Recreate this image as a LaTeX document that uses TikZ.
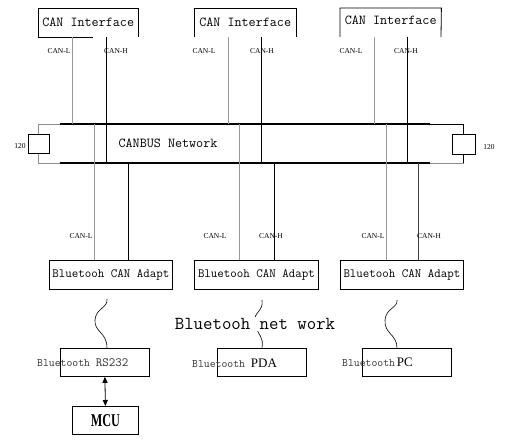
\documentclass[tikz,border=0pt]{standalone}
\usepackage{fontspec}
\usepackage{graphicx}
\setmainfont{Liberation Serif}
\newcommand\monof{\ttfamily}
\usetikzlibrary{arrows.meta}
\begin{document}
\begin{tikzpicture}[x=1pt,y=-1pt,
  thinl/.style={line width=0.8pt, black},
  gline/.style={line width=1pt, black!40},
  kline/.style={line width=0.9pt, black},
  busline/.style={line width=2.6pt, black},
  box/.style={draw, line width=0.8pt, inner sep=0pt, anchor=north west},
  ifc/.style={inner sep=0pt, anchor=north west, minimum height=29pt, font=\monof\fontsize{13.7}{13.7}\selectfont},
  lab/.style={inner sep=0pt, font=\fontsize{7.5}{8}\selectfont},
  wave/.style={line width=0.6pt, black},
  adapt/.style={box, minimum width=123pt, minimum height=29pt, font=\monof\fontsize{12.6}{12.6}\selectfont},
  dev/.style={box, minimum width=89pt, minimum height=28pt},
  smallbt/.style={inner sep=0pt, anchor=base west, text=black!80}
]
\useasboundingbox (0,0) rectangle (528,443);

% CAN interface boxes (open at the bottom)
\node[ifc, minimum width=100pt] (ci1) at (38,8) {CAN Interface};
\node[ifc, minimum width=102pt] (ci2) at (194,8) {CAN Interface};
\node[ifc, minimum width=101pt, minimum height=25pt] (ci3) at (340,8) {CAN Interface};
\coordinate (ci3sw) at (340,37);
\coordinate (ci3se) at (441,37);
\draw[thinl] (ci1.south west) -- (ci1.north west) -- (ci1.north east) -- (ci1.south east);
\draw[thinl] (ci1.south west) -- ++(55,0);
\draw[thinl] (ci2.south west) -- (ci2.north west) -- (ci2.north east) -- (ci2.south east);
\draw[thinl] (ci3sw) -- (ci3.north west) -- (ci3.north east) -- (ci3se);

% bus
\coordinate (bt) at (0,124);
\coordinate (bb) at (0,163);
\coordinate (frameL) at (38,124);
\coordinate (frameR) at (463,163);
\draw[line width=0.8pt, black!45] (frameL) rectangle (frameR);
\draw[thinl] (430,124) -- (463,124) -- (463,163);
\coordinate (busL1) at (60,124);
\coordinate (busR1) at (430,124);
\coordinate (busL2) at (60,163);
\coordinate (busR2) at (430,163);
\draw[busline] (busL1) -- (busR1);
\draw[busline] (busL2) -- (busR2);
\node[inner sep=0pt, font=\monof\fontsize{13.7}{13.7}\selectfont] (net) at (168,143) {CANBUS Network};

% terminators
\node[box, minimum width=21pt, minimum height=19pt, fill=white] (r1) at (28,134) {};
\node[box, minimum width=23pt, minimum height=20pt, fill=white] (r2) at (452,134) {};
\node[lab] (r1t) at (20,146) {120};
\node[lab] (r2t) at (489,147) {120};

% adapters
\node[adapt] (ad1) at (49,260) {Bluetooh CAN Adapt};
\node[adapt, minimum width=124pt] (ad2) at (194,260) {Bluetooh CAN Adapt};
\node[adapt] (ad3) at (340,260) {Bluetooh CAN Adapt};

% top drops
\coordinate (t1l) at (72,37);
\coordinate (t1h) at (106,37);
\coordinate (t2l) at (228,37);
\coordinate (t2h) at (261,37);
\coordinate (t3l) at (374,37);
\coordinate (t3h) at (407,37);
\draw[gline] (t1l) -- (t1l |- bt);
\draw[kline] (t1h) -- (t1h |- bb);
\draw[gline] (t2l) -- (t2l |- bt);
\draw[kline] (t2h) -- (t2h |- bb);
\draw[gline] (t3l) -- (t3l |- bt);
\draw[kline] (t3h) -- (t3h |- bb);

% bottom drops
\coordinate (b1l) at (94,124);
\coordinate (b1h) at (128,163);
\coordinate (b2l) at (239,124);
\coordinate (b2h) at (274,163);
\coordinate (b3l) at (386,124);
\coordinate (b3h) at (418,163);
\draw[gline] (b1l) -- (b1l |- ad1.north);
\draw[kline] (b1h) -- (b1h |- ad1.north);
\draw[gline] (b2l) -- (b2l |- ad2.north);
\draw[kline] (b2h) -- (b2h |- ad2.north);
\draw[gline] (b3l) -- (b3l |- ad3.north);
\draw[kline, black!75] (b3h) -- (b3h |- ad3.north);

% labels top
\node[lab] (l1) at (59,51) {CAN-L};
\node[lab] (l2) at (116,51) {CAN-H};
\node[lab] (l3) at (204,51) {CAN-L};
\node[lab] (l4) at (262,51) {CAN-H};
\node[lab] (l5) at (351,51) {CAN-L};
\node[lab] (l6) at (406,51) {CAN-H};
% labels bottom
\node[lab] (l7) at (81,236) {CAN-L};
\node[lab] (l8) at (215,236) {CAN-L};
\node[lab] (l9) at (271,236) {CAN-H};
\node[lab] (l10) at (373,236) {CAN-L};
\node[lab] (l11) at (429,236) {CAN-H};

% devices
\node[dev] (rs) at (60,348) {};
\node[dev] (pda) at (217,348) {};
\node[dev] (pc) at (362,348) {};
\node[box, minimum width=66pt, minimum height=28pt] (mcu) at (72,406)
  {\scalebox{0.68}[1]{\fontsize{18}{18}\selectfont\bfseries MCU}};

\node[smallbt] (rst) at (37,367) {\monof\fontsize{11.4}{11.4}\selectfont Bluetooth \fontsize{12.6}{12.6}\selectfont RS232};
\node[smallbt] (pdat) at (192,368) {\monof\fontsize{11.4}{11.4}\selectfont Bluetooth \rmfamily\color{black}\fontsize{13}{13}\selectfont PDA};
\node[smallbt] (pct) at (342,367) {\monof\fontsize{11.4}{11.4}\selectfont Bluetooth\,\rmfamily\color{black}\fontsize{13}{13}\selectfont PC};

\draw[line width=0.8pt, {Triangle[length=6pt,width=5pt]}-{Triangle[length=6pt,width=5pt]}] (rs.south) -- (mcu.north);

% wireless links
\coordinate (w1a) at (107,299);
\coordinate (w1b) at (107,348);
\coordinate (w2a) at (262,300);
\coordinate (w2b) at (262,348);
\coordinate (w3a) at (397,300);
\coordinate (w3b) at (397,348);
\draw[wave] (w1a) .. controls (108,308) and (96,308) .. (95,320) .. controls (94,332) and (107,332) .. (w1b);
\draw[wave] (w2a) .. controls (264,312) and (252,312) .. (255,324) .. controls (258,336) and (264,336) .. (w2b);
\draw[wave] (w3a) .. controls (398,308) and (386,308) .. (385,320) .. controls (384,334) and (397,334) .. (w3b);

\node[fill=white, inner sep=1pt, font=\monof\fontsize{18.3}{18.3}\selectfont] (bnet) at (255,324) {Bluetooh net work};
\end{tikzpicture}
\end{document}
